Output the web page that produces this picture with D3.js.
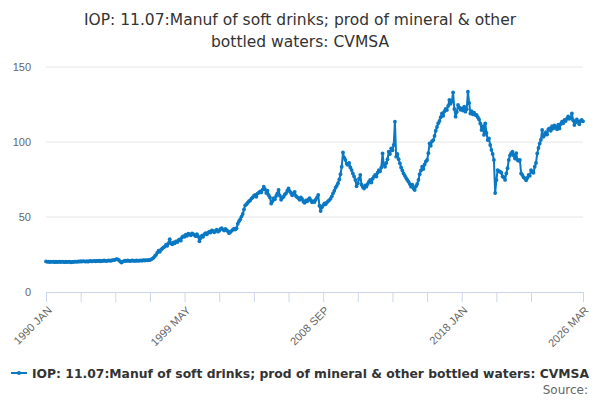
<!DOCTYPE html>
<html lang="en">
<head>
  <meta charset="UTF-8">
  <title>IOP 11.07 soft drinks</title>
  <script src="https://cdn.jsdelivr.net/npm/d3@7"></script>
  <style>
    body { margin: 0; background: #fff; }
    svg { font-family: "DejaVu Sans", sans-serif; display: block; }
  </style>
</head>
<body>
<svg></svg>
<script>
  const width = 600, height = 400
  const margin = {top: 67, right: 17, bottom: 108, left: 46}

  const titleLines = ['IOP: 11.07:Manuf of soft drinks; prod of mineral & other', 'bottled waters: CVMSA']
  const seriesName = 'IOP: 11.07:Manuf of soft drinks; prod of mineral & other bottled waters: CVMSA'
  const monthNames = ['JAN', 'FEB', 'MAR', 'APR', 'MAY', 'JUN', 'JUL', 'AUG', 'SEP', 'OCT', 'NOV', 'DEC']
  const startYear = 1990
  const yTicks = [0, 50, 100, 150]
  const labelledTicks = ['1990 JAN', '1999 MAY', '2008 SEP', '2018 JAN', '2026 MAR']

  // monthly values, one row per year
  const values = [
    20.4, 20.1, 20.3, 20.0, 20.2, 20.1, 20.3, 19.9, 20.2, 20.0, 20.1, 20.2, // 1990
    20.0, 20.3, 20.1, 19.9, 20.2, 20.0, 20.1, 20.3, 19.8, 20.1, 20.0, 20.2, // 1991
    20.3, 20.1, 20.4, 20.2, 20.5, 20.3, 20.6, 20.4, 20.3, 20.5, 20.2, 20.6, // 1992
    20.7, 20.4, 20.6, 20.8, 20.5, 20.7, 20.6, 20.9, 20.5, 20.8, 20.7, 21.0, // 1993
    20.8, 20.6, 20.9, 21.1, 20.8, 21.0, 21.3, 21.2, 21.6, 21.9, 21.7, 21.2, // 1994
    20.3, 19.6, 20.2, 20.6, 20.9, 20.7, 21.0, 20.8, 20.6, 20.9, 21.0, 20.8, // 1995
    20.7, 21.0, 20.9, 20.8, 21.1, 20.9, 21.0, 21.2, 21.0, 21.3, 21.1, 21.4, // 1996
    21.3, 21.8, 22.3, 22.9, 24.0, 24.8, 26.3, 27.5, 26.8, 28.2, 29.0, 29.8, // 1997
    30.2, 31.5, 30.8, 32.6, 35.2, 32.4, 31.8, 33.0, 32.5, 33.8, 33.2, 34.5, // 1998
    35.0, 34.2, 36.5, 37.3, 36.8, 38.2, 37.5, 38.9, 38.4, 37.8, 39.0, 38.5, // 1999
    38.0, 37.2, 38.5, 37.0, 33.8, 36.0, 37.5, 36.8, 38.6, 39.2, 38.4, 39.5, // 2000
    40.2, 39.6, 41.0, 40.5, 39.8, 40.8, 41.5, 40.2, 40.9, 42.0, 42.5, 41.6, // 2001
    41.0, 42.0, 41.3, 40.5, 39.2, 40.0, 40.8, 41.5, 42.3, 41.6, 42.5, 45.5, // 2002
    47.2, 48.5, 50.3, 52.0, 55.0, 57.8, 58.5, 59.5, 60.5, 61.0, 62.3, 63.0, // 2003
    64.0, 64.8, 63.5, 65.6, 66.2, 67.0, 66.4, 68.2, 70.2, 68.5, 66.0, 67.5, // 2004
    64.5, 63.0, 59.0, 60.5, 62.5, 61.8, 64.0, 65.8, 68.0, 64.2, 61.5, 62.8, // 2005
    63.5, 65.0, 65.8, 67.5, 69.0, 67.2, 66.0, 64.5, 65.8, 66.8, 64.0, 63.2, // 2006
    62.5, 61.5, 63.0, 62.0, 60.2, 59.5, 61.0, 60.4, 61.8, 62.5, 61.0, 59.8, // 2007
    60.5, 60.0, 61.5, 63.0, 64.7, 57.5, 54.0, 56.5, 57.8, 59.0, 58.5, 59.8, // 2008
    60.5, 61.3, 62.2, 63.8, 65.8, 67.5, 69.5, 70.8, 72.5, 75.0, 78.5, 83.5, // 2009
    93.0, 89.5, 88.0, 85.5, 84.7, 86.0, 83.0, 81.3, 79.0, 77.0, 74.7, 70.5, // 2010
    72.5, 75.5, 78.0, 71.5, 70.0, 69.0, 71.0, 70.2, 72.0, 73.5, 74.7, 73.0, // 2011
    75.5, 76.9, 78.0, 77.0, 79.5, 81.3, 80.5, 83.0, 92.4, 85.0, 83.5, 86.0, // 2012
    88.5, 93.5, 92.0, 95.8, 94.5, 98.0, 113.5, 90.2, 92.0, 88.5, 85.8, 83.0, // 2013
    81.0, 79.0, 77.5, 76.0, 74.7, 73.5, 72.0, 70.2, 71.5, 69.0, 68.0, 70.5, // 2014
    72.0, 74.7, 78.5, 81.0, 83.5, 82.0, 85.0, 87.0, 88.0, 92.5, 99.0, 97.5, // 2015
    100.5, 101.3, 104.0, 107.5, 110.0, 112.5, 114.0, 116.5, 119.0, 117.5, 120.5, 122.0, // 2016
    121.3, 124.0, 128.0, 125.5, 127.0, 133.0, 122.0, 116.9, 120.0, 124.7, 123.0, 121.5, // 2017
    122.4, 121.0, 123.5, 120.2, 121.8, 133.5, 126.0, 119.0, 120.5, 118.5, 119.5, 118.0, // 2018
    118.0, 116.5, 115.0, 112.4, 108.0, 110.5, 104.7, 112.4, 106.0, 101.3, 102.4, 98.0, // 2019
    94.7, 92.0, 88.0, 66.0, 74.7, 81.3, 80.5, 80.2, 79.5, 77.0, 76.5, 74.7, // 2020
    79.0, 82.5, 88.0, 91.0, 92.5, 93.5, 91.0, 89.0, 92.5, 88.0, 87.5, 88.0, // 2021
    79.0, 78.0, 76.5, 75.8, 74.5, 76.0, 78.0, 77.5, 81.3, 80.0, 79.5, 83.5, // 2022
    86.0, 92.4, 96.0, 99.0, 101.5, 108.0, 103.5, 104.7, 106.5, 105.0, 108.5, 109.0, // 2023
    107.5, 110.5, 109.0, 111.0, 110.0, 108.5, 111.5, 109.0, 112.0, 113.5, 112.5, 114.7, // 2024
    114.0, 115.5, 117.0, 115.5, 116.0, 119.0, 114.5, 111.3, 113.0, 115.0, 113.5, 111.8, // 2025
    114.0, 114.7, 113.8 // 2026
  ]

  const categories = values.map((v, i) =>
      `${startYear + Math.floor(i / 12)} ${monthNames[i % 12]}`)
  const data = values.map((v, i) => ({i, value: v, label: categories[i]}))

  // tick every 28 months, last one at the final month
  const tickIdx = d3.range(0, 393, 28).concat([values.length - 1])

  const svg = d3.select('svg')
      .attr('width', width)
      .attr('height', height)
      .attr('viewBox', [0, 0, width, height])

  const x = d3.scaleLinear()
      .domain([0, values.length - 1])
      .range([margin.left, width - margin.right])

  const y = d3.scaleLinear()
      .domain([0, 150])
      .range([height - margin.bottom, margin.top])

  // title
  svg.append('g').selectAll('text')
    .data(titleLines)
    .join('text')
      .attr('x', width / 2)
      .attr('y', (d, i) => 25 + i * 22)
      .attr('text-anchor', 'middle')
      .attr('fill', '#333')
      .style('font-size', '15.5px')
      .text(d => d)

  // grid lines
  svg.append('g').selectAll('line')
    .data(yTicks.filter(d => d > 0))
    .join('line')
      .attr('x1', margin.left)
      .attr('x2', width - margin.right)
      .attr('y1', d => y(d))
      .attr('y2', d => y(d))
      .attr('stroke', '#e6e6e6')

  // y labels
  const yAxis = svg.append('g')
      .attr('transform', `translate(${margin.left},0)`)
      .call(d3.axisLeft(y).tickValues(yTicks).tickSize(0).tickPadding(15))
  yAxis.select('.domain').remove()
  yAxis.selectAll('text').attr('fill', '#666').style('font-size', '11px')

  // x axis
  const xAxis = svg.append('g')
      .attr('transform', `translate(0,${height - margin.bottom})`)
      .call(d3.axisBottom(x)
        .tickValues(tickIdx)
        .tickSize(10)
        .tickFormat(i => labelledTicks.includes(categories[i]) ? categories[i] : ''))
  xAxis.select('.domain').attr('stroke', '#ccd6eb').attr('d', `M${margin.left},0.5H${width - margin.right}`)
  xAxis.selectAll('.tick line').attr('stroke', '#ccd6eb')
  xAxis.selectAll('text')
      .attr('fill', '#666')
      .style('font-size', '11px')
      .attr('text-anchor', 'end')
      .attr('dy', null)
      .attr('y', null)
      .attr('transform', 'translate(6,19) rotate(-45)')

  // series
  const color = '#0a78c2'
  const line = d3.line()
      .x(d => x(d.i))
      .y(d => y(d.value))

  svg.append('path')
      .attr('fill', 'none')
      .attr('stroke', color)
      .attr('stroke-width', 2)
      .attr('stroke-linejoin', 'round')
      .attr('d', line(data))

  svg.append('g').selectAll('circle')
    .data(data)
    .join('circle')
      .attr('cx', d => x(d.i))
      .attr('cy', d => y(d.value))
      .attr('r', 1.9)
      .attr('fill', color)

  // legend
  const legend = svg.append('g').attr('transform', 'translate(11,373)')
  legend.append('line')
      .attr('x1', 0).attr('x2', 16)
      .attr('stroke', color).attr('stroke-width', 2)
  legend.append('circle').attr('cx', 8).attr('r', 2).attr('fill', color)
  legend.append('text')
      .attr('x', 21)
      .attr('y', 5)
      .attr('fill', '#333')
      .attr('textLength', 557)
      .attr('lengthAdjust', 'spacingAndGlyphs')
      .style('font-size', '12.3px')
      .style('font-weight', 'bold')
      .text(seriesName)

  svg.append('text')
      .attr('x', 588)
      .attr('y', 394)
      .attr('text-anchor', 'end')
      .attr('fill', '#666')
      .style('font-size', '12px')
      .text('Source:')
</script>
</body>
</html>
